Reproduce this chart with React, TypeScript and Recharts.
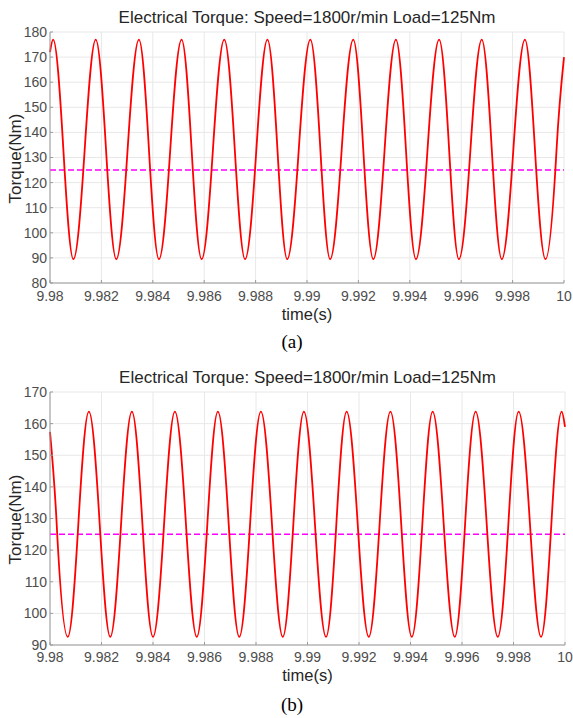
import React from 'react';
import { LineChart, Line, XAxis, YAxis, CartesianGrid, ReferenceLine, Label } from 'recharts';

// Case (a): torque samples (s, Nm) at peaks, troughs and mid-swing points
const timeA = [
  9.98, 9.98012, 9.98052, 9.98091, 9.98135, 9.98178, 9.98218, 9.98258, 9.98302, 9.98346,
  9.98385, 9.98424, 9.98468, 9.98512, 9.98551, 9.9859, 9.98634, 9.98678, 9.98719, 9.98759,
  9.98803, 9.98846, 9.98885, 9.98923, 9.98968, 9.99013, 9.99052, 9.9909, 9.99135, 9.9918,
  9.99219, 9.99258, 9.99302, 9.99346, 9.99385, 9.99424, 9.99469, 9.99514, 9.99553, 9.99591,
  9.99636, 9.9968, 9.99719, 9.99758, 9.99803, 9.99848, 9.99887, 9.99928, 9.99971, 10,
];
const torqueA = [
  172, 177, 133.2, 89.5, 133.2, 177, 133.2, 89.5, 133.2, 177,
  133.2, 89.5, 133.2, 177, 133.2, 89.5, 133.2, 177, 133.2, 89.5,
  133.2, 177, 133.2, 89.5, 133.2, 177, 133.2, 89.5, 133.2, 177,
  133.2, 89.5, 133.2, 177, 133.2, 89.5, 133.2, 177, 133.2, 89.5,
  133.2, 177, 133.2, 89.5, 133.2, 177, 133.2, 89.5, 133.2, 170,
];

// Case (b): torque samples (s, Nm)
const timeB = [
  9.98, 9.98026, 9.98069, 9.9811, 9.98151, 9.98193, 9.98234, 9.98276, 9.98318, 9.98359,
  9.984, 9.98443, 9.98485, 9.98528, 9.9857, 9.98611, 9.98652, 9.98694, 9.98735, 9.98777,
  9.98819, 9.98862, 9.98904, 9.98945, 9.98986, 9.99029, 9.99072, 9.99112, 9.99152, 9.99195,
  9.99238, 9.9928, 9.99322, 9.99364, 9.99405, 9.99446, 9.99486, 9.99529, 9.99572, 9.99612,
  9.99653, 9.99696, 9.99739, 9.9978, 9.9982, 9.99864, 9.99907, 9.99947, 9.99987, 10,
];
const torqueB = [
  157.4, 128.2, 92.6, 128.2, 163.8, 128.2, 92.6, 128.2, 163.8, 128.2,
  92.6, 128.2, 163.8, 128.2, 92.6, 128.2, 163.8, 128.2, 92.6, 128.2,
  163.8, 128.2, 92.6, 128.2, 163.8, 128.2, 92.6, 128.2, 163.8, 128.2,
  92.6, 128.2, 163.8, 128.2, 92.6, 128.2, 163.8, 128.2, 92.6, 128.2,
  163.8, 128.2, 92.6, 128.2, 163.8, 128.2, 92.6, 128.2, 163.8, 159,
];

const timeTicks = [9.98, 9.982, 9.984, 9.986, 9.988, 9.99, 9.992, 9.994, 9.996, 9.998, 10];
const torqueTicksA = [80, 90, 100, 110, 120, 130, 140, 150, 160, 170, 180];
const torqueTicksB = [90, 100, 110, 120, 130, 140, 150, 160, 170];
const loadTorque = 125;

const titleText = 'Electrical Torque: Speed=1800r/min Load=125Nm';
const xLabel = 'time(s)';
const yLabel = 'Torque(Nm)';

const SANS = '"Liberation Sans", Arial, Helvetica, sans-serif';
const SERIF = '"Liberation Serif", "Times New Roman", serif';
const BOX = '#9a9a9a';
const TICK_FONT = { fontSize: 14, fill: '#4d4d4d', fontFamily: SANS };

// Cubic Hermite curve for the sampled waveform: flat tangents at the
// local extrema, steepened tangents at the mid-swing samples so that the
// peak / mid / trough samples trace a smooth oscillation.
const MID_SWING_GAIN = Math.PI / 2;

function waveCurve(context: any) {
  let xs: number[] = [];
  let ys: number[] = [];
  return {
    areaStart() {},
    areaEnd() {},
    lineStart() {
      xs = [];
      ys = [];
    },
    point(x: number, y: number) {
      xs.push(+x);
      ys.push(+y);
    },
    lineEnd() {
      const n = xs.length;
      if (!n) return;
      context.moveTo(xs[0], ys[0]);
      if (n === 1) return;
      if (n === 2) {
        context.lineTo(xs[1], ys[1]);
        return;
      }
      const s: number[] = [];
      for (let i = 0; i < n - 1; i++) s.push((ys[i + 1] - ys[i]) / (xs[i + 1] - xs[i]));
      const m: number[] = new Array(n).fill(0);
      for (let i = 1; i < n - 1; i++) {
        const s0 = s[i - 1];
        const s1 = s[i];
        if (s0 * s1 <= 0) continue;
        const h0 = xs[i] - xs[i - 1];
        const h1 = xs[i + 1] - xs[i];
        const p = (s0 * h1 + s1 * h0) / (h0 + h1);
        const lim = 3 * Math.min(Math.abs(s0), Math.abs(s1));
        m[i] = Math.sign(p) * Math.min(Math.abs(p) * MID_SWING_GAIN, lim);
      }
      m[0] = (3 * s[0] - m[1]) / 2;
      m[n - 1] = (3 * s[n - 2] - m[n - 2]) / 2;
      for (let i = 0; i < n - 1; i++) {
        const dx = (xs[i + 1] - xs[i]) / 3;
        context.bezierCurveTo(
          xs[i] + dx,
          ys[i] + dx * m[i],
          xs[i + 1] - dx,
          ys[i + 1] - dx * m[i + 1],
          xs[i + 1],
          ys[i + 1],
        );
      }
    },
  };
}

type PanelProps = {
  top: number;
  times: number[];
  torques: number[];
  yTicks: number[];
  plotBottom: number;
  height: number;
  rightMargin: number;
  tickGap: number;
  xLabelDy: number;
};

function TorquePanel({ top, times, torques, yTicks, plotBottom, height, rightMargin, tickGap, xLabelDy }: PanelProps) {
  const data = times.map((t, i) => ({ t, torque: torques[i] }));
  const yDomain: [number, number] = [yTicks[0], yTicks[yTicks.length - 1]];
  return (
    <div style={{ position: 'absolute', left: 0, top, width: 573, height }}>
      <div
        style={{
          position: 'absolute',
          left: 50,
          width: 573 - 50 - rightMargin,
          top: 8,
          textAlign: 'center',
          fontFamily: SANS,
          fontSize: 17,
          lineHeight: '20px',
          color: '#262626',
          whiteSpace: 'nowrap',
        }}
      >
        {titleText}
      </div>
      <LineChart
        width={573}
        height={height}
        data={data}
        margin={{ top: 32, right: rightMargin, bottom: 0, left: 0 }}
      >
        <CartesianGrid stroke="#e8e8e8" strokeWidth={1} />
        <XAxis
          dataKey="t"
          type="number"
          domain={[9.98, 10]}
          ticks={timeTicks}
          interval={0}
          height={height - plotBottom}
          tickSize={-3}
          tickMargin={tickGap}
          tick={TICK_FONT}
          axisLine={{ stroke: BOX }}
          tickLine={{ stroke: BOX }}
        >
          <Label
            content={(props: any) => {
              const vb = props.viewBox;
              return (
                <text
                  x={vb.x + vb.width / 2}
                  y={vb.y + xLabelDy}
                  textAnchor="middle"
                  fontFamily={SANS}
                  fontSize={16.5}
                  fill="#262626"
                >
                  {xLabel}
                </text>
              );
            }}
          />
        </XAxis>
        <XAxis
          xAxisId="top"
          orientation="top"
          dataKey="t"
          type="number"
          domain={[9.98, 10]}
          ticks={timeTicks}
          interval={0}
          height={0}
          tickSize={-3}
          tickFormatter={() => ''}
          axisLine={{ stroke: BOX }}
          tickLine={{ stroke: BOX }}
        />
        <YAxis
          type="number"
          domain={yDomain}
          ticks={yTicks}
          interval={0}
          width={50}
          tickSize={-3}
          tickMargin={6}
          tick={TICK_FONT}
          axisLine={{ stroke: BOX }}
          tickLine={{ stroke: BOX }}
        >
          <Label
            content={(props: any) => {
              const vb = props.viewBox;
              const cx = vb.x + 21;
              const cy = vb.y + vb.height / 2 + 1;
              return (
                <text
                  x={cx}
                  y={cy}
                  textAnchor="middle"
                  transform={`rotate(-90, ${cx}, ${cy})`}
                  fontFamily={SANS}
                  fontSize={17}
                  fill="#262626"
                >
                  {yLabel}
                </text>
              );
            }}
          />
        </YAxis>
        <YAxis
          yAxisId="right"
          orientation="right"
          type="number"
          domain={yDomain}
          ticks={yTicks}
          interval={0}
          width={0}
          tickSize={-3}
          tickFormatter={() => ''}
          axisLine={{ stroke: BOX }}
          tickLine={{ stroke: BOX }}
        />
        <ReferenceLine
          y={loadTorque}
          stroke="#ff00ff"
          strokeWidth={1.5}
          strokeDasharray="6 3"
        />
        <Line
          dataKey="torque"
          type={waveCurve as any}
          stroke="#ff0000"
          strokeWidth={1.8}
          dot={false}
          isAnimationActive={false}
        />
      </LineChart>
    </div>
  );
}

function Caption({ top, text }: { top: number; text: string }) {
  return (
    <div
      style={{
        position: 'absolute',
        left: 292,
        top,
        transform: 'translateX(-50%)',
        fontFamily: SERIF,
        fontSize: 19,
        lineHeight: '20px',
        color: '#000',
      }}
    >
      {text}
    </div>
  );
}

export default function App() {
  return (
    <div style={{ position: 'absolute', left: 0, top: 0, width: 573, height: 718, background: '#fff' }}>
      <TorquePanel
        top={0}
        times={timeA}
        torques={torqueA}
        yTicks={torqueTicksA}
        plotBottom={283}
        height={325}
        rightMargin={9}
        tickGap={11}
        xLabelDy={37}
      />
      <Caption top={332} text="(a)" />
      <TorquePanel
        top={360}
        times={timeB}
        torques={torqueB}
        yTicks={torqueTicksB}
        plotBottom={285}
        height={327}
        rightMargin={8}
        tickGap={10}
        xLabelDy={36}
      />
      <Caption top={695} text="(b)" />
    </div>
  );
}
